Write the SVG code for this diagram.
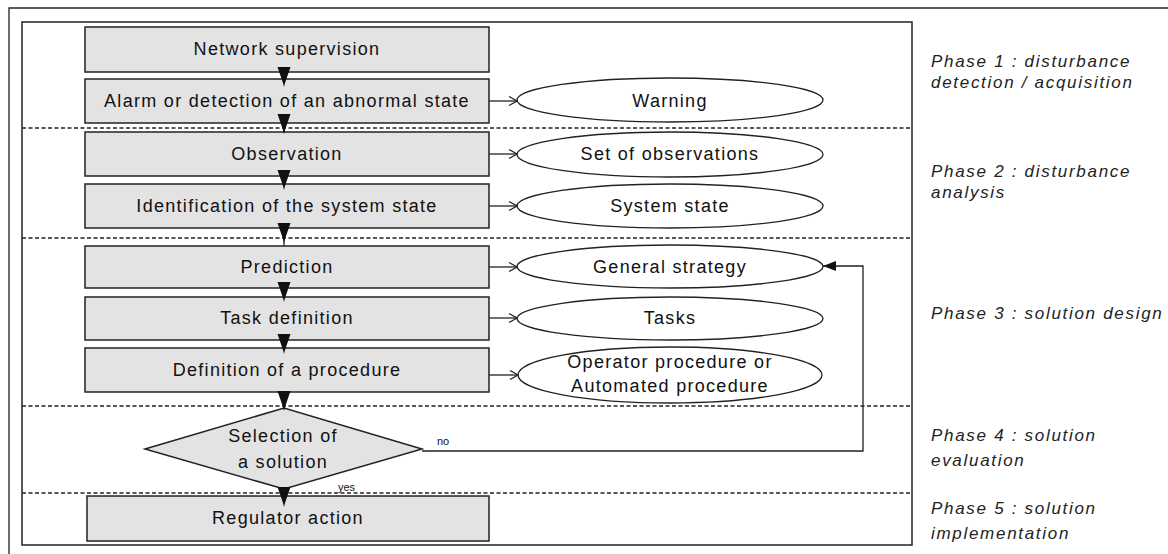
<svg xmlns="http://www.w3.org/2000/svg" xmlns:xlink="http://www.w3.org/1999/xlink" width="1168" height="554" viewBox="0 0 1168 554">
<style>
.box{fill:#e3e3e3;stroke:#222;stroke-width:1.5}
.ell{fill:#fff;stroke:#222;stroke-width:1.3}
.t{font-family:"Liberation Sans",Arial,sans-serif;font-size:18px;letter-spacing:1.3px;fill:#111;text-anchor:middle}
.ph{font-family:"Liberation Sans",Arial,sans-serif;font-size:17px;font-style:italic;letter-spacing:1.7px;fill:#222}
.sm{font-family:"Liberation Sans",Arial,sans-serif;font-size:11px;fill:#111}
.dash{stroke:#222;stroke-width:1.3;stroke-dasharray:4 2.5;fill:none}
.c{stroke:#222;stroke-width:1.3;fill:none}
</style>
<defs>
<marker id="open" markerWidth="10" markerHeight="10" refX="9" refY="5" orient="auto" markerUnits="userSpaceOnUse">
<path d="M1,0.5 L9,5 L1,9.5" fill="none" stroke="#222" stroke-width="1.2"/>
</marker>
<marker id="fill" markerWidth="14" markerHeight="10" refX="13" refY="5" orient="auto" markerUnits="userSpaceOnUse">
<path d="M0,0 L13,5 L0,10 Z" fill="#111"/>
</marker>
<path id="tri" d="M-6.5,0 L6.5,0 L1,16 L0,20 L-1,16 Z" fill="#111"/>
</defs>
<rect width="1168" height="554" fill="#fff"/>
<g id="frame">
<path d="M9,554 L9,8 L1168,8" class="c" stroke-width="1.5"/>
<rect x="22" y="22" width="890" height="523" fill="none" stroke="#222" stroke-width="1.5"/>
<line x1="22" y1="128" x2="912" y2="128" class="dash"/>
<line x1="22" y1="238" x2="912" y2="238" class="dash"/>
<line x1="22" y1="406" x2="912" y2="406" class="dash"/>
<line x1="22" y1="493" x2="912" y2="493" class="dash"/>
</g>
<g id="n-network"><rect x="85" y="27" width="404" height="45" class="box"/><text x="287" y="55" class="t">Network supervision</text></g>
<g id="n-alarm"><rect x="85" y="79" width="404" height="44" class="box"/><text x="287" y="107" class="t">Alarm or detection of an abnormal state</text></g>
<g id="n-observation"><rect x="85" y="132" width="404" height="44" class="box"/><text x="287" y="160" class="t">Observation</text></g>
<g id="n-identification"><rect x="85" y="184" width="404" height="44" class="box"/><text x="287" y="212" class="t">Identification of the system state</text></g>
<g id="n-prediction"><rect x="85" y="246" width="404" height="42" class="box"/><text x="287" y="273" class="t">Prediction</text></g>
<g id="n-task"><rect x="85" y="297" width="404" height="43" class="box"/><text x="287" y="324" class="t">Task definition</text></g>
<g id="n-procedure"><rect x="85" y="348" width="404" height="44" class="box"/><text x="287" y="376" class="t">Definition of a procedure</text></g>
<g id="n-selection"><polygon points="145,449 284,408 422,449 284,489" class="box" stroke-width="1.3"/><text x="283" y="442" class="t">Selection of</text><text x="283" y="468" class="t">a solution</text></g>
<g id="n-regulator"><rect x="87" y="496" width="402" height="45" class="box"/><text x="288" y="524" class="t">Regulator action</text></g>
<g id="n-warning"><ellipse cx="670" cy="100" rx="153" ry="22" class="ell"/><text x="670" y="107" class="t">Warning</text></g>
<g id="n-observations"><ellipse cx="670" cy="154.5" rx="153" ry="22.5" class="ell"/><text x="670" y="160" class="t">Set of observations</text></g>
<g id="n-state"><ellipse cx="670" cy="206" rx="153" ry="22" class="ell"/><text x="670" y="212" class="t">System state</text></g>
<g id="n-strategy"><ellipse cx="670" cy="266.5" rx="153" ry="21.5" class="ell"/><text x="670" y="273" class="t">General strategy</text></g>
<g id="n-tasks"><ellipse cx="670" cy="318.5" rx="153" ry="21.5" class="ell"/><text x="670" y="324" class="t">Tasks</text></g>
<g id="n-opproc"><ellipse cx="670" cy="375" rx="152" ry="28" class="ell"/><text x="670" y="368" class="t">Operator procedure or</text><text x="670" y="392" class="t">Automated procedure</text></g>
<g id="connectors">
<line x1="284" y1="72" x2="284" y2="79" class="c"/>
<line x1="284" y1="123" x2="284" y2="132" class="c"/>
<line x1="284" y1="176" x2="284" y2="184" class="c"/>
<line x1="284" y1="228" x2="284" y2="246" class="c"/>
<line x1="284" y1="288" x2="284" y2="297" class="c"/>
<line x1="284" y1="340" x2="284" y2="348" class="c"/>
<line x1="284" y1="392" x2="284" y2="408" class="c"/>
<line x1="284" y1="489" x2="284" y2="496" class="c"/>
<use xlink:href="#tri" x="284" y="67"/>
<use xlink:href="#tri" x="284" y="114"/>
<use xlink:href="#tri" x="284" y="170"/>
<use xlink:href="#tri" x="284" y="223"/>
<use xlink:href="#tri" x="284" y="282"/>
<use xlink:href="#tri" x="284" y="334"/>
<use xlink:href="#tri" x="284" y="391"/>
<use xlink:href="#tri" x="284" y="487"/>
<line x1="489" y1="101" x2="517" y2="101" class="c" marker-end="url(#open)"/>
<line x1="489" y1="154" x2="517" y2="154" class="c" marker-end="url(#open)"/>
<line x1="489" y1="206" x2="517" y2="206" class="c" marker-end="url(#open)"/>
<line x1="489" y1="267" x2="517" y2="267" class="c" marker-end="url(#open)"/>
<line x1="489" y1="318" x2="517" y2="318" class="c" marker-end="url(#open)"/>
<line x1="489" y1="375" x2="518" y2="375" class="c" marker-end="url(#open)"/>
<polyline points="422,451 863,451 863,266 823,266" class="c" stroke-width="1.6" marker-end="url(#fill)"/>
<text x="437" y="445" class="sm">no</text>
<text x="338" y="491" class="sm">yes</text>
</g>
<g id="phases">
<text x="931" y="67" class="ph">Phase 1 : disturbance</text>
<text x="931" y="88" class="ph">detection / acquisition</text>
<text x="931" y="177" class="ph">Phase 2 : disturbance</text>
<text x="931" y="198" class="ph">analysis</text>
<text x="931" y="319" class="ph">Phase 3 : solution design</text>
<text x="931" y="441" class="ph">Phase 4 : solution</text>
<text x="931" y="466" class="ph">evaluation</text>
<text x="931" y="514" class="ph">Phase 5 : solution</text>
<text x="931" y="539" class="ph">implementation</text>
</g>
</svg>
